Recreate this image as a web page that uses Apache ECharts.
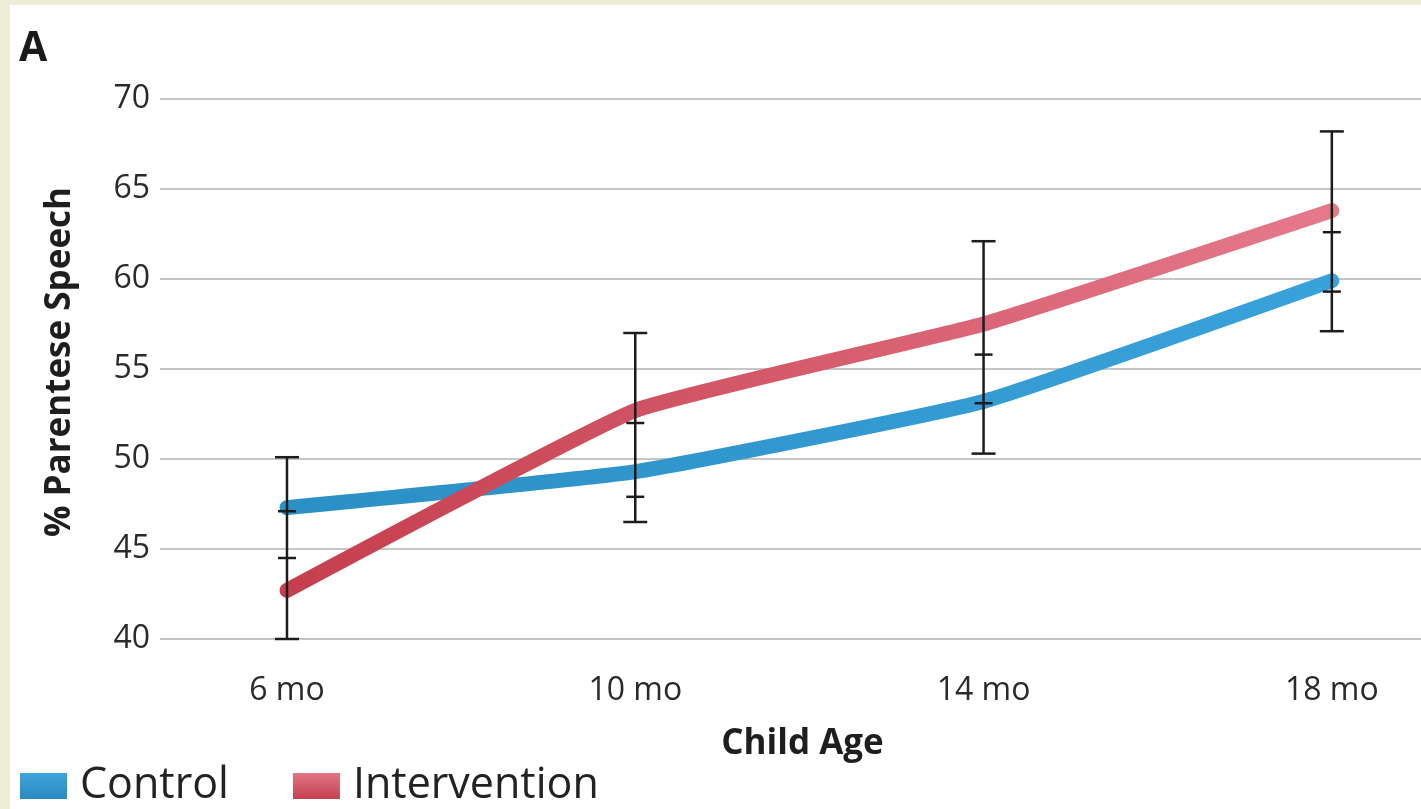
<!DOCTYPE html>
<html>
<head>
<meta charset="utf-8">
<script src="https://cdn.jsdelivr.net/npm/echarts@6/dist/echarts.min.js"></script>
<style>
  html, body { margin: 0; padding: 0; background: #eeedd8; width: 1421px; height: 809px; overflow: hidden; }
  #chart { position: absolute; left: 10px; top: 5px; width: 1411px; height: 804px; background: #ffffff; }
</style>
</head>
<body>
<div id="chart"></div>
<script>
// Child age groups along the x axis
const categories = ['6 mo', '10 mo', '14 mo', '18 mo'];
// Mean % parentese speech per group
const controlMean = [47.3, 49.3, 53.2, 59.9];
const interventionMean = [42.7, 52.7, 57.5, 63.8];
// Error bar extents
const controlLow = [44.5, 46.5, 50.3, 57.1];
const controlHigh = [50.1, 52.0, 55.8, 62.6];
const interventionLow = [40.0, 47.9, 53.1, 59.3];
const interventionHigh = [47.1, 57.0, 62.1, 68.2];
// Y axis range
const yMin = 40, yMax = 70, yStep = 5;

const FONT = '"Open Sans", "Noto Sans", sans-serif';

const chart = echarts.init(document.getElementById('chart'), null, { renderer: 'canvas' });

const toPoints = arr => arr.map((v, i) => [i, v]);
const errorData = categories.map((c, i) => [i, controlLow[i], controlHigh[i], interventionLow[i], interventionHigh[i]]);

const option = {
  animation: false,
  title: {
    text: 'A',
    left: 9,
    top: 24,
    padding: 0,
    textStyle: { fontFamily: FONT, fontWeight: 'bold', fontSize: 41, color: '#1a1a1a' }
  },
  legend: {
    left: 10,
    top: 758,
    padding: 0,
    icon: 'rect',
    itemWidth: 47,
    itemHeight: 26,
    itemGap: 64,
    textStyle: { fontFamily: FONT, fontSize: 43, color: '#222', padding: [0, 0, 0, 8], lineHeight: 46 },
    data: [
      { name: 'Control', itemStyle: { color: { type: 'linear', x: 0, y: 0, x2: 0, y2: 1, colorStops: [{ offset: 0, color: '#3ea3da' }, { offset: 1, color: '#2a8ac0' }] } } },
      { name: 'Intervention', itemStyle: { color: { type: 'linear', x: 0, y: 0, x2: 0, y2: 1, colorStops: [{ offset: 0, color: '#e27585' }, { offset: 1, color: '#c4404f' }] } } }
    ]
  },
  grid: { left: 150, right: 0, top: 94, bottom: 170, containLabel: false },
  xAxis: {
    type: 'value',
    min: -0.3646,
    max: 3.256,
    name: 'Child Age',
    nameLocation: 'middle',
    nameGap: 88,
    nameTextStyle: { fontFamily: FONT, fontWeight: 'bold', fontSize: 35, color: '#1e1e1e', padding: [0, 0, 0, 24] },
    axisLine: { show: false },
    axisTick: { show: false },
    splitLine: { show: false },
    axisLabel: {
      customValues: [0, 1, 2, 3],
      formatter: v => categories[Math.round(v)] || '',
      fontFamily: FONT,
      fontSize: 32,
      color: '#2a2a2a',
      margin: 36
    }
  },
  yAxis: {
    type: 'value',
    min: yMin,
    max: yMax,
    interval: yStep,
    name: '% Parentese Speech',
    nameLocation: 'middle',
    nameRotate: 90,
    nameGap: 82,
    nameTextStyle: { fontFamily: FONT, fontWeight: 'bold', fontSize: 35, color: '#1e1e1e', padding: [0, 0, 0, 14] },
    axisLine: { show: false },
    axisTick: { show: false },
    axisLabel: { fontFamily: FONT, fontSize: 32, color: '#2a2a2a', margin: 10 },
    splitLine: { lineStyle: { color: '#c6c6c6', width: 2 } }
  },
  series: [
    {
      name: 'Control',
      type: 'line',
      data: toPoints(controlMean),
      showSymbol: false,
      smooth: 0.12,
      z: 3,
      itemStyle: { color: '#3399cf' },
      lineStyle: {
        width: 15,
        cap: 'round',
        join: 'round',
        color: { type: 'linear', x: 0, y: 0, x2: 1, y2: 0, colorStops: [{ offset: 0, color: '#2a8fc4' }, { offset: 1, color: '#3aa2db' }] }
      }
    },
    {
      name: 'Intervention',
      type: 'line',
      data: toPoints(interventionMean),
      showSymbol: false,
      smooth: 0.12,
      z: 4,
      itemStyle: { color: '#d65a6a' },
      lineStyle: {
        width: 15,
        cap: 'round',
        join: 'round',
        color: { type: 'linear', x: 0, y: 0, x2: 1, y2: 0, colorStops: [{ offset: 0, color: '#c53e4d' }, { offset: 1, color: '#e57a8c' }] }
      }
    },
    {
      name: 'errors',
      type: 'custom',
      z: 10,
      silent: true,
      data: errorData,
      renderItem: function (params, api) {
        const x = api.value(0);
        const vals = [api.value(1), api.value(2), api.value(3), api.value(4)];
        const lo = Math.min.apply(null, vals);
        const hi = Math.max.apply(null, vals);
        const pLo = api.coord([x, lo]);
        const pHi = api.coord([x, hi]);
        const style = { stroke: '#1c1c1c', lineWidth: 2.5 };
        const children = [{ type: 'line', shape: { x1: pLo[0], y1: pLo[1], x2: pHi[0], y2: pHi[1] }, style: style }];
        vals.forEach(v => {
          const p = api.coord([x, v]);
          const half = (v === lo || v === hi) ? 12 : 9;
          children.push({ type: 'line', shape: { x1: p[0] - half, y1: p[1], x2: p[0] + half, y2: p[1] }, style: style });
        });
        return { type: 'group', children: children };
      }
    }
  ]
};

chart.setOption(option);
</script>
</body>
</html>
